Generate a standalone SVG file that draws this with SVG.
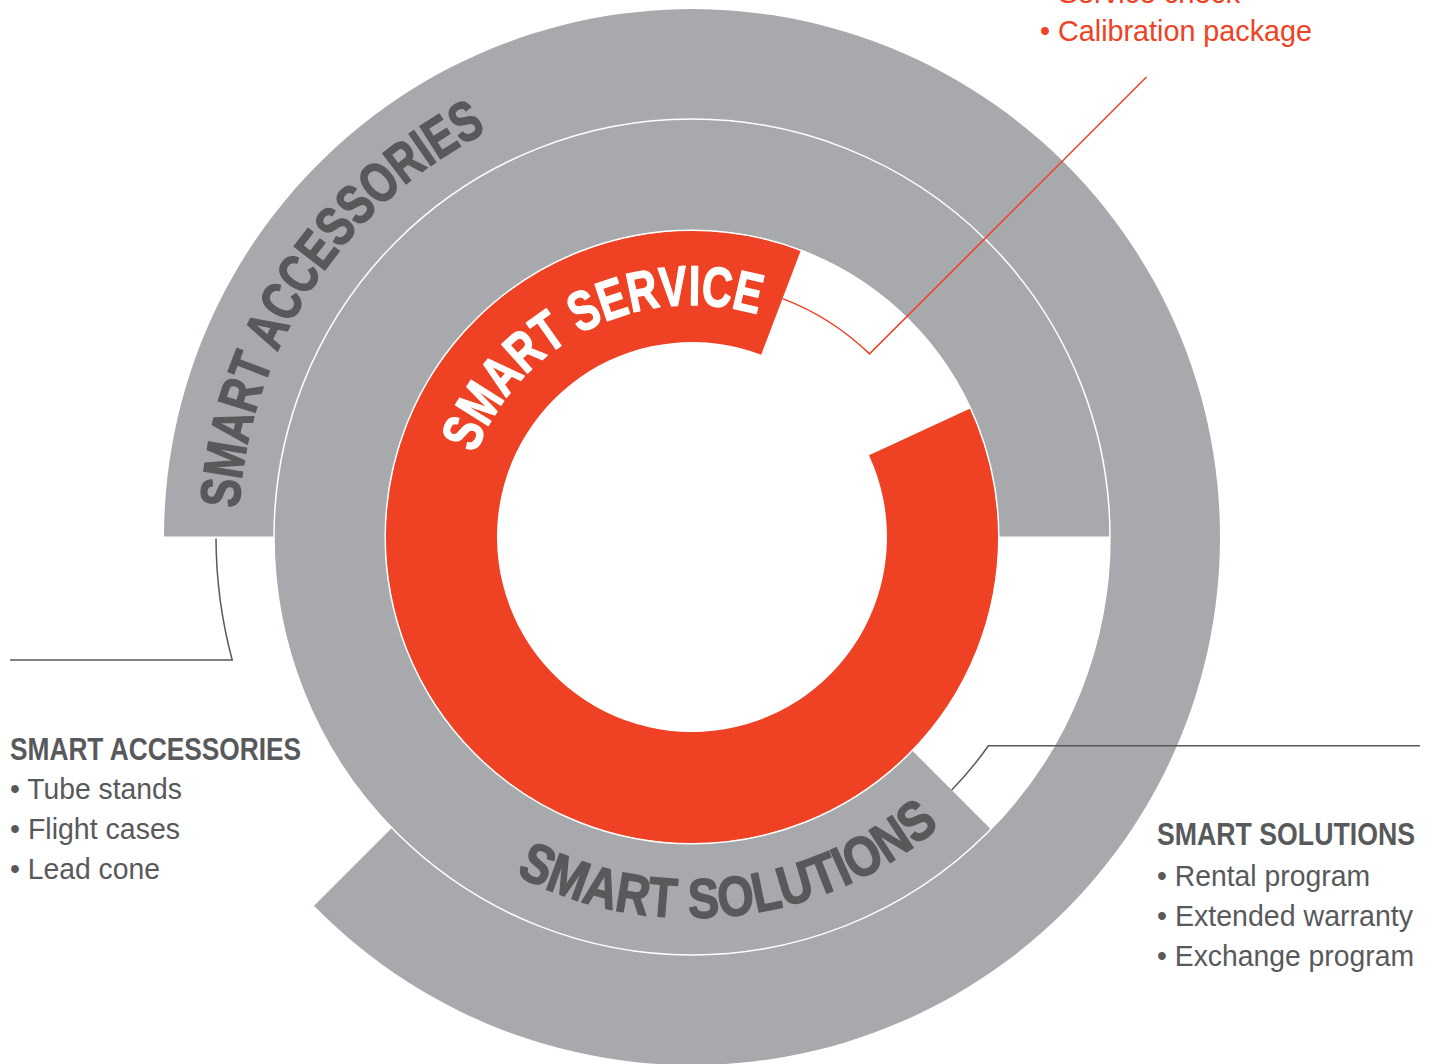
<svg xmlns="http://www.w3.org/2000/svg" xmlns:xlink="http://www.w3.org/1999/xlink" width="1432" height="1064" viewBox="0 0 1432 1064">
  <style>
    .band-gray { fill: #a7a9ac; }
    .band-red { fill: #ef4123; }
    .sep { fill: none; stroke: #ffffff; stroke-width: 1.5; }
    .arc-label { font-family: "Liberation Sans", Arial, sans-serif; font-weight: bold; font-size: 56px; stroke-width: 1.4; stroke-linejoin: round; }
    .dark { fill: #58595b; stroke: #58595b; }
    .white { fill: #ffffff; stroke: #ffffff; }
    .head { font-family: "Liberation Sans", Arial, sans-serif; font-weight: bold; font-size: 32px; fill: #58595b; }
    .item { font-family: "Liberation Sans", Arial, sans-serif; font-size: 30px; fill: #58595b; }
    .item-red { fill: #ef4123; }
    .conn { fill: none; stroke: #58595b; stroke-width: 1.5; }
    .conn-red { fill: none; stroke: #ef4123; stroke-width: 1.5; }
  </style>
  <defs>
    <path id="p-acc" d="M 238 537 A 454 454 0 0 1 692 83 A 454 454 0 0 1 1146 537"/>
    <path id="p-svc" d="M 460 537 A 232 232 0 0 1 692 305 A 232 232 0 0 1 924 537"/>
    <path id="p-sol" d="M 422.6 806.4 A 381 381 0 0 0 961.4 806.4"/>
  </defs>

  <g id="smart-accessories">
    <path class="band-gray" d="M 164 536.6 A 528 528 0 1 1 314 905.7 L 391.8 827.9 A 418 418 0 1 0 274 536.6 Z"/>
  </g>
  <g id="smart-solutions">
    <path class="band-gray" d="M 990.9 829.2 A 418 418 0 1 1 1110 536.6 L 999 536.6 A 307 307 0 1 0 912.4 750.7 Z"/>
  </g>
  <g id="smart-service">
    <path class="band-red" d="M 970.2 408.4 A 306.5 306.5 0 1 1 800.8 250.5 L 761.2 354.7 A 195 195 0 1 0 869 455.2 Z"/>
  </g>

  <g id="separators">
    <circle class="sep" cx="692" cy="537" r="418"/>
    <circle class="sep" cx="692" cy="537" r="306.8"/>
  </g>

  <g id="ring-labels">
    <text class="arc-label dark"><textPath href="#p-acc" xlink:href="#p-acc" startOffset="28.5" textLength="472" lengthAdjust="spacingAndGlyphs">SMART ACCESSORIES</textPath></text>
    <text class="arc-label white"><textPath href="#p-svc" xlink:href="#p-svc" startOffset="85" textLength="346" lengthAdjust="spacingAndGlyphs">SMART SERVICE</textPath></text>
    <text class="arc-label dark"><textPath href="#p-sol" xlink:href="#p-sol" startOffset="116" textLength="453" lengthAdjust="spacingAndGlyphs">SMART SOLUTIONS</textPath></text>
  </g>

  <g id="connectors">
    <path class="conn" d="M 216 538.5 A 476 476 0 0 0 232.2 660 L 10 660"/>
    <path class="conn" d="M 951.7 790 A 362.5 362.5 0 0 0 988.4 745.7 L 1420 745.7"/>
    <path class="conn-red" d="M 782.6 298.6 A 255 255 0 0 1 869.5 353.9 L 1146.5 77"/>
  </g>

  <g id="label-accessories">
    <text class="head" x="10" y="760" textLength="291" lengthAdjust="spacingAndGlyphs">SMART ACCESSORIES</text>
    <text class="item" x="10" y="799" textLength="172" lengthAdjust="spacingAndGlyphs">• Tube stands</text>
    <text class="item" x="10" y="839" textLength="170" lengthAdjust="spacingAndGlyphs">• Flight cases</text>
    <text class="item" x="10" y="879" textLength="150" lengthAdjust="spacingAndGlyphs">• Lead cone</text>
  </g>

  <g id="label-solutions">
    <text class="head" x="1157" y="845" textLength="258" lengthAdjust="spacingAndGlyphs">SMART SOLUTIONS</text>
    <text class="item" x="1157" y="886" textLength="213" lengthAdjust="spacingAndGlyphs">• Rental program</text>
    <text class="item" x="1157" y="926" textLength="256" lengthAdjust="spacingAndGlyphs">• Extended warranty</text>
    <text class="item" x="1157" y="966" textLength="257" lengthAdjust="spacingAndGlyphs">• Exchange program</text>
  </g>

  <g id="label-service">
    <text class="item item-red" x="1040" y="3" textLength="200" lengthAdjust="spacingAndGlyphs">• Service check</text>
    <text class="item item-red" x="1040" y="41" textLength="272" lengthAdjust="spacingAndGlyphs">• Calibration package</text>
  </g>
</svg>
